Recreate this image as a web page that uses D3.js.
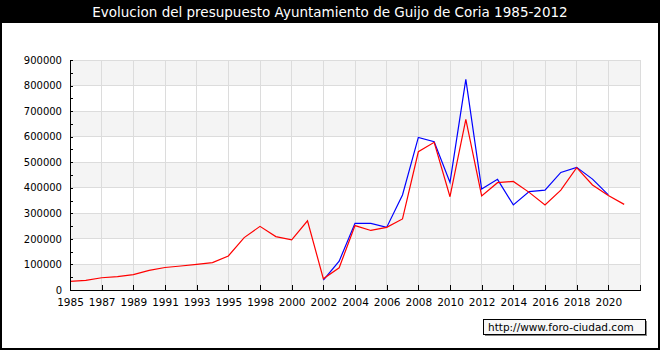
<!DOCTYPE html>
<html lang="es">
<head>
    <meta charset="UTF-8">
    <title>Presupuesto Guijo de Coria</title>
    <script src="https://cdn.jsdelivr.net/npm/d3@7"></script>
    <style>
        body { margin: 0; background: #fff; }
        svg text { font-family: "DejaVu Sans", Verdana, sans-serif; }
    </style>
</head>
<body>
<script>
    // años (falta 1997 en la serie original)
    const years = ["1985", "1986", "1987", "1988", "1989", "1990", "1991", "1992", "1993", "1994",
        "1995", "1996", "1998", "1999", "2000", "2001", "2002", "2003", "2004", "2005", "2006",
        "2007", "2008", "2009", "2010", "2011", "2012", "2013", "2014", "2015", "2016", "2017",
        "2018", "2019", "2020", "2021"];

    // serie roja
    const gastos = [34000, 38000, 48000, 52000, 60000, 77000, 88000, 94000, 100000, 107000,
        133000, 205000, 249000, 209000, 196000, 271000, 44000, 87000, 252000, 233000, 245000,
        278000, 541000, 578000, 365000, 668000, 368000, 420000, 425000, 382000, 333000, 391000,
        479000, 411000, 370000, 335000];

    // serie azul (2002-2020)
    const ingresos = [null, null, null, null, null, null, null, null, null, null,
        null, null, null, null, null, null, 39000, 113000, 261000, 261000, 245000,
        372000, 597000, 580000, 421000, 824000, 395000, 433000, 333000, 385000, 391000, 460000,
        480000, 434000, 372000, null];

    const yMax = 900000;
    const title = "Evolucion del presupuesto Ayuntamiento de Guijo de Coria 1985-2012";
    const watermark = "http://www.foro-ciudad.com";

    const width = 660, height = 350;
    const margin = {top: 60, right: 20, bottom: 60, left: 70};

    const svg = d3.select("body").append("svg")
        .attr("width", width)
        .attr("height", height);

    // marco negro + cabecera
    svg.append("rect").attr("width", width).attr("height", height).attr("fill", "#000");
    svg.append("rect").attr("x", 2).attr("y", 23).attr("width", width - 4).attr("height", height - 25)
        .attr("fill", "#fff");
    svg.append("text")
        .attr("x", width / 2).attr("y", 17)
        .attr("text-anchor", "middle")
        .attr("fill", "#fff")
        .attr("font-size", 13.5)
        .text(title);

    const x = d3.scaleLinear()
        .domain([0, years.length])
        .range([margin.left, width - margin.right]);

    const y = d3.scaleLinear()
        .domain([0, yMax])
        .range([height - margin.bottom, margin.top]);

    const xTicks = d3.range(0, years.length + 1, 2);
    const bands = d3.range(0, yMax, 200000);

    // bandas grises
    svg.append("g").selectAll("rect")
        .data(bands)
        .join("rect")
        .attr("x", x(0))
        .attr("width", x(years.length) - x(0))
        .attr("y", d => y(d + 100000))
        .attr("height", d => y(d) - y(d + 100000))
        .attr("fill", "#f4f4f4");

    // rejilla
    const grid = svg.append("g")
        .attr("stroke", "#dcdcdc")
        .attr("shape-rendering", "crispEdges");
    grid.selectAll(".h")
        .data(d3.range(100000, yMax + 1, 100000))
        .join("line")
        .attr("x1", x(0)).attr("x2", x(years.length))
        .attr("y1", d => y(d)).attr("y2", d => y(d));
    grid.selectAll(".v")
        .data(xTicks.slice(1))
        .join("line")
        .attr("x1", d => x(d)).attr("x2", d => x(d))
        .attr("y1", y(yMax)).attr("y2", y(0));

    // lineas
    const line = data => d3.line()
        .defined(d => d != null)
        .x((d, i) => x(i))
        .y(d => y(d))(data);

    svg.append("path")
        .attr("d", line(ingresos))
        .attr("fill", "none")
        .attr("stroke", "#0000ff")
        .attr("stroke-width", 1.2);

    svg.append("path")
        .attr("d", line(gastos))
        .attr("fill", "none")
        .attr("stroke", "#ff0000")
        .attr("stroke-width", 1.2);

    // ejes
    const yAxis = svg.append("g")
        .attr("transform", `translate(${x(0)},0)`)
        .attr("shape-rendering", "crispEdges")
        .call(d3.axisLeft(y)
            .tickValues(d3.range(0, yMax + 1, 50000))
            .tickSize(-3)
            .tickSizeOuter(0)
            .tickPadding(8)
            .tickFormat(d => d % 100000 === 0 ? d : ""));
    yAxis.selectAll("text").attr("font-size", 10).attr("fill", "#000")
        .style("font-family", "'DejaVu Sans', sans-serif");

    const xAxis = svg.append("g")
        .attr("transform", `translate(0,${y(0)})`)
        .attr("shape-rendering", "crispEdges")
        .call(d3.axisBottom(x)
            .tickValues(xTicks)
            .tickSize(-5)
            .tickSizeOuter(0)
            .tickPadding(9)
            .tickFormat(i => years[i] || ""));
    xAxis.selectAll("text").attr("font-size", 10.5).attr("fill", "#000")
        .style("font-family", "'DejaVu Sans', sans-serif");
    svg.selectAll(".domain").attr("stroke", "#000").attr("stroke-width", 1.5);
    svg.selectAll(".tick line").attr("stroke", "#000");

    // marca de agua
    svg.append("rect").attr("x", 485).attr("y", 321).attr("width", 162).attr("height", 15).attr("fill", "#888");
    svg.append("rect").attr("x", 483.5).attr("y", 319.5).attr("width", 162).attr("height", 15)
        .attr("fill", "#f8f8f8").attr("stroke", "#000");
    svg.append("text")
        .attr("x", 488).attr("y", 331)
        .attr("font-size", 10.5)
        .attr("fill", "#000")
        .text(watermark);
</script>
</body>
</html>
